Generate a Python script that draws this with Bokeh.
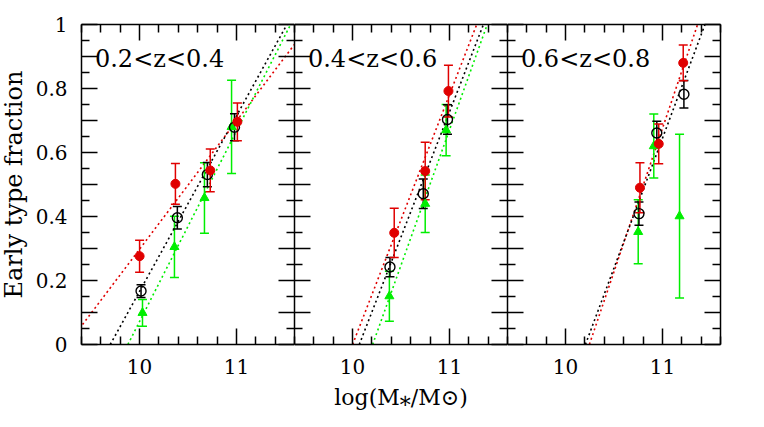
from bokeh.plotting import figure
from bokeh.layouts import row
from bokeh.models import (ColumnDataSource, Whisker, TeeHead, Slope, Label,
                          LinearAxis, FixedTicker, Range1d, CustomLabelingPolicy)
from bokeh.embed import file_html
from bokeh.resources import INLINE

# ---------------- data ----------------
panel_titles = ["0.2<z<0.4", "0.4<z<0.6", "0.6<z<0.8"]

# panel 1 : 0.2<z<0.4
p1_all_x = [10.015, 10.39, 10.70, 10.98]
p1_all_y = [0.167, 0.396, 0.531, 0.679]
p1_all_err = [0.020, 0.035, 0.038, 0.042]
p1_red_x = [10.00, 10.37, 10.73, 11.01]
p1_red_y = [0.276, 0.502, 0.544, 0.696]
p1_red_err = [0.050, 0.064, 0.067, 0.059]
p1_green_x = [10.03, 10.36, 10.67, 10.95]
p1_green_y = [0.099, 0.305, 0.458, 0.680]
p1_green_err = [0.042, 0.096, 0.110, 0.146]

# panel 2 : 0.4<z<0.6
p2_all_x = [10.386, 10.73, 10.98]
p2_all_y = [0.242, 0.471, 0.703]
p2_all_err = [0.030, 0.046, 0.046]
p2_red_x = [10.43, 10.75, 10.99]
p2_red_y = [0.349, 0.542, 0.792]
p2_red_err = [0.077, 0.090, 0.081]
p2_green_x = [10.38, 10.75, 10.966]
p2_green_y = [0.151, 0.440, 0.670]
p2_green_err = [0.078, 0.090, 0.080]

# panel 3 : 0.6<z<0.8
p3_all_x = [10.758, 10.942, 11.222]
p3_all_y = [0.409, 0.661, 0.782]
p3_all_err = [0.036, 0.037, 0.043]
p3_red_x = [10.768, 10.962, 11.215]
p3_red_y = [0.490, 0.627, 0.880]
p3_red_err = [0.078, 0.062, 0.056]
p3_green_x = [10.75, 10.911, 11.177]
p3_green_y = [0.352, 0.620, 0.401]
p3_green_err = [0.100, 0.100, 0.256]

# linear fits: (slope, fraction at log M = 10); None = no fit drawn
p1_fits = {"red": (0.40, 0.298), "black": (0.548, 0.166), "green": (0.595, 0.072)}
p2_fits = {"red": (0.78, 0.000), "black": (0.78, -0.054), "green": (0.845, -0.175)}
p3_fits = {"red": (0.895, -0.220), "black": (0.81, -0.166), "green": None}

y_ticks = [0.0, 0.1, 0.2, 0.3, 0.4, 0.5, 0.6, 0.7, 0.8, 0.9, 1.0]
y_minor = [0.05, 0.15, 0.25, 0.35, 0.45, 0.55, 0.65, 0.75, 0.85, 0.95]
y_tick_labels = {0.0: "0", 0.1: "", 0.2: "0.2", 0.3: "", 0.4: "0.4", 0.5: "",
                 0.6: "0.6", 0.7: "", 0.8: "0.8", 0.9: "", 1.0: "1"}
x_ticks = [10, 11]
x_minor = [9.4, 9.6, 9.8, 10.2, 10.4, 10.6, 10.8, 11.2, 11.4, 11.6]

panels = [
    (p1_all_x, p1_all_y, p1_all_err, p1_red_x, p1_red_y, p1_red_err,
     p1_green_x, p1_green_y, p1_green_err, p1_fits),
    (p2_all_x, p2_all_y, p2_all_err, p2_red_x, p2_red_y, p2_red_err,
     p2_green_x, p2_green_y, p2_green_err, p2_fits),
    (p3_all_x, p3_all_y, p3_all_err, p3_red_x, p3_red_y, p3_red_err,
     p3_green_x, p3_green_y, p3_green_err, p3_fits),
]

# ---------------- style ----------------
FONT = "DejaVu Serif"
RED = "#e00000"
GREEN = "#00ee00"
BLACK = "#000000"
COLORS = {"red": RED, "black": BLACK, "green": GREEN}

NO_LABELS = "for (let i = 0; i < indices.size; i++) { indices.unset(i) }\nreturn indices"


def style_axis(ax, ticker, labels):
    ax.ticker = ticker
    ax.axis_line_color = "black"
    ax.axis_line_width = 1.5
    ax.major_tick_line_color = "black"
    ax.minor_tick_line_color = "black"
    ax.major_tick_line_width = 1.5
    ax.minor_tick_line_width = 1.5
    ax.major_tick_in = 16
    ax.major_tick_out = 0
    ax.minor_tick_in = 8
    ax.minor_tick_out = 0
    ax.major_label_text_font = FONT
    ax.major_label_text_color = "black"
    ax.axis_label_text_color = "black"
    if labels:
        ax.major_label_text_font_size = "20px"
    else:
        ax.major_label_text_font_size = "0px"
        ax.major_label_standoff = 0
        ax.major_label_policy = CustomLabelingPolicy(code=NO_LABELS)


def whiskers(p, xs, ys, errs, color):
    src = ColumnDataSource(dict(x=xs, lo=[y - e for y, e in zip(ys, errs)],
                                hi=[y + e for y, e in zip(ys, errs)]))
    w = Whisker(source=src, base="x", upper="hi", lower="lo", dimension="height",
                line_color=color, line_width=1.5,
                upper_head=TeeHead(size=9, line_color=color, line_width=1.5),
                lower_head=TeeHead(size=9, line_color=color, line_width=1.5))
    p.add_layout(w)


figs = []
for i, (ax_, ay_, ae_, rx_, ry_, re_, gx_, gy_, ge_, fits) in enumerate(panels):
    p = figure(frame_width=213, frame_height=320,
               x_range=Range1d(9.4, 11.6), y_range=Range1d(0, 1),
               output_backend="svg", toolbar_location=None,
               min_border_left=79 if i == 0 else 0,
               min_border_right=12 if i == 2 else 0,
               min_border_top=24, min_border_bottom=72,
               outline_line_color=None, background_fill_color="white",
               border_fill_color="white")
    if i == 0:
        p.margin = (0, 0, 0, -4)
    p.grid.visible = False
    p.add_layout(LinearAxis(), "above")
    p.add_layout(LinearAxis(), "right")

    xt = FixedTicker(ticks=x_ticks, minor_ticks=x_minor)
    yt = FixedTicker(ticks=y_ticks, minor_ticks=y_minor)
    for ax in p.below:
        style_axis(ax, xt, True)
        ax.major_label_standoff = 14
    for ax in p.above:
        style_axis(ax, xt, False)
    for ax in p.right:
        style_axis(ax, yt, False)
    for ax in p.left:
        style_axis(ax, yt, i == 0)
        if i == 0:
            ax.major_label_overrides = y_tick_labels
            ax.major_label_standoff = 14
            ax.axis_label = "Early type fraction"
            ax.axis_label_text_font = FONT
            ax.axis_label_text_font_size = "24px"
            ax.axis_label_text_font_style = "normal"
            ax.axis_label_standoff = 5
    if i == 1:
        bx = p.below[0]
        bx.axis_label = "log(M\u204e/M\u2299)"
        bx.axis_label_text_font = FONT
        bx.axis_label_text_font_size = "22px"
        bx.axis_label_text_font_style = "normal"
        bx.axis_label_standoff = 8

    # fit lines
    for key in ["red", "black", "green"]:
        f = fits[key]
        if f is None:
            continue
        slope, f10 = f
        p.add_layout(Slope(gradient=slope, y_intercept=f10 - slope * 10.0,
                           line_color=COLORS[key], line_width=1.6,
                           line_dash="2 3", level="underlay"))

    # error bars
    whiskers(p, gx_, gy_, ge_, GREEN)
    whiskers(p, ax_, ay_, ae_, BLACK)
    whiskers(p, rx_, ry_, re_, RED)

    # markers
    p.scatter(gx_, gy_, marker="triangle", size=9, fill_color=GREEN, line_color=GREEN)
    p.scatter(ax_, ay_, marker="circle", size=10, fill_color=None,
              line_color=BLACK, line_width=1.4)
    p.scatter(rx_, ry_, marker="circle", size=9, fill_color=RED, line_color=RED)

    p.add_layout(Label(x=9.539, y=0.891, text=panel_titles[i], text_font=FONT,
                       text_font_size="24px", text_color="black",
                       text_baseline="alphabetic", text_align="left"))
    figs.append(p)

layout = row(*figs, spacing=0)
open("out.html", "w").write(file_html(layout, INLINE))
